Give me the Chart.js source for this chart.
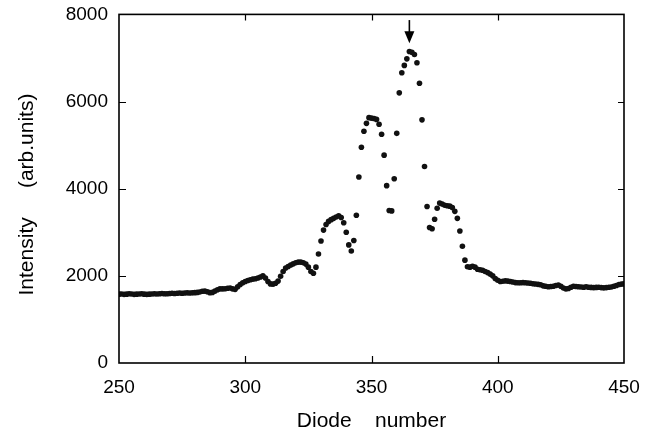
<!DOCTYPE html>
<html>
<head>
<meta charset="utf-8">
<script src="https://cdn.jsdelivr.net/npm/chart.js@4.4.1/dist/chart.umd.min.js"></script>
<style>
  body { margin: 0; background: #fff; }
</style>
</head>
<body>
<canvas id="grafico" width="659" height="437"></canvas>
<script>
// one reading per diode, starting at diode 250
const firstDiode = 250;
const intensity = [
  1580, 1585, 1575, 1580, 1590, 1585, 1575, 1580, 1585, 1590, // 250
  1580, 1575, 1580, 1585, 1590, 1585, 1590, 1595, 1590, 1590, // 260
  1595, 1600, 1595, 1600, 1605, 1600, 1605, 1610, 1605, 1610, // 270
  1615, 1620, 1630, 1645, 1650, 1635, 1615, 1620, 1650, 1680, // 280
  1700, 1700, 1705, 1715, 1720, 1700, 1690, 1750, 1800, 1840, // 290
  1870, 1895, 1910, 1925, 1935, 1950, 1975, 2000, 1950, 1870, // 300
  1815, 1810, 1830, 1880, 1990, 2100, 2180, 2215, 2250, 2275, // 310
  2300, 2315, 2315, 2300, 2270, 2200, 2100, 2060, 2200, 2500, // 320
  2800, 3050, 3180, 3250, 3290, 3320, 3350, 3380, 3340, 3220, // 330
  3000, 2710, 2570, 2810, 3390, 4270, 4950, 5320, 5500, 5630, // 340
  5620, 5610, 5590, 5480, 5250, 4770, 4070, 3500, 3490, 4230, // 350
  5270, 6200, 6660, 6830, 6980, 7150, 7130, 7080, 6890, 6420, // 360
  5580, 4510, 3590, 3110, 3080, 3300, 3550, 3670, 3650, 3620, // 370
  3610, 3600, 3570, 3480, 3320, 3030, 2680, 2360, 2210, 2200, // 380
  2220, 2200, 2150, 2140, 2130, 2100, 2075, 2040, 2000, 1940, // 390
  1900, 1870, 1875, 1885, 1880, 1870, 1860, 1845, 1840, 1840, // 400
  1845, 1840, 1835, 1830, 1820, 1812, 1805, 1795, 1770, 1760, // 410
  1750, 1755, 1760, 1780, 1790, 1760, 1720, 1700, 1710, 1740, // 420
  1760, 1755, 1750, 1745, 1740, 1750, 1740, 1735, 1730, 1735, // 430
  1740, 1730, 1725, 1730, 1740, 1745, 1760, 1780, 1800, 1810, // 440
  1815                                                        // 450
];
const xTicks = [250, 300, 350, 400, 450];
const yTicks = [0, 2000, 4000, 6000, 8000];

// the arrow above the main peak
const arrowDiode = 365;
const arrowTop = 7870;
const arrowTip = 7340;

const fonte = "'Liberation Sans', Arial, sans-serif";

const pontos = intensity.map(function (v, i) {
    return { x: firstDiode + i, y: v };
});

// box round the plot, inward ticks, and the arrow
const molduraPlugin = {
    id: 'moldura',
    afterDraw(chart) {
        const ctx = chart.ctx;
        const a = chart.chartArea;
        const xs = chart.scales.x;
        const ys = chart.scales.y;
        ctx.save();
        ctx.strokeStyle = '#000';
        ctx.lineWidth = 1.6;
        ctx.strokeRect(a.left, a.top, a.right - a.left, a.bottom - a.top);

        ctx.lineWidth = 1.2;
        ctx.beginPath();
        xTicks.slice(1, -1).forEach(function (t) {
            const px = Math.round(xs.getPixelForValue(t)) + 0.5;
            ctx.moveTo(px, a.bottom); ctx.lineTo(px, a.bottom - 7);
            ctx.moveTo(px, a.top); ctx.lineTo(px, a.top + 6);
        });
        yTicks.slice(1, -1).forEach(function (t) {
            const py = Math.round(ys.getPixelForValue(t)) + 0.5;
            ctx.moveTo(a.left, py); ctx.lineTo(a.left + 7, py);
            ctx.moveTo(a.right, py); ctx.lineTo(a.right - 6, py);
        });
        ctx.stroke();

        const ax = xs.getPixelForValue(arrowDiode);
        const yTop = ys.getPixelForValue(arrowTop);
        const yTip = ys.getPixelForValue(arrowTip);
        const yBase = yTip - 12;
        ctx.lineWidth = 1.6;
        ctx.beginPath();
        ctx.moveTo(ax, yTop);
        ctx.lineTo(ax, yBase + 1);
        ctx.stroke();
        ctx.fillStyle = '#000';
        ctx.beginPath();
        ctx.moveTo(ax - 5, yBase);
        ctx.lineTo(ax + 5, yBase);
        ctx.lineTo(ax, yTip);
        ctx.closePath();
        ctx.fill();
        ctx.restore();
    }
};

const config = {
    type: 'scatter',
    data: {
        datasets: [{
            label: 'Intensity',
            data: pontos,
            pointRadius: 2.8,
            pointHoverRadius: 2.8,
            pointBorderWidth: 0,
            backgroundColor: '#111',
            borderColor: '#111',
            showLine: false
        }]
    },
    options: {
        responsive: false,
        animation: false,
        layout: { padding: { left: 0, right: 35, top: 0, bottom: 0 } },
        plugins: {
            legend: { display: false },
            tooltip: { enabled: false }
        },
        scales: {
            x: {
                type: 'linear',
                min: 250,
                max: 450,
                afterFit: function (scale) { scale.height = 74; },
                afterBuildTicks: function (scale) {
                    scale.ticks = xTicks.map(function (v) { return { value: v }; });
                },
                grid: { display: false },
                border: { display: false },
                ticks: {
                    color: '#000',
                    padding: 5,
                    font: { family: fonte, size: 19 },
                    callback: function (v) { return String(v); }
                },
                title: {
                    display: true,
                    text: 'Diode    number',
                    color: '#000',
                    padding: { top: 0, bottom: 3 },
                    font: { family: fonte, size: 21 }
                }
            },
            y: {
                min: 0,
                max: 8000,
                afterFit: function (scale) { scale.width = 119; },
                afterBuildTicks: function (scale) {
                    scale.ticks = yTicks.map(function (v) { return { value: v }; });
                },
                grid: { display: false },
                border: { display: false },
                ticks: {
                    color: '#000',
                    padding: 3,
                    font: { family: fonte, size: 19 },
                    callback: function (v) { return String(v); }
                },
                title: {
                    display: true,
                    text: 'Intensity     (arb.units)  ',
                    color: '#000',
                    padding: { top: 15, bottom: 0 },
                    font: { family: fonte, size: 21 }
                }
            }
        }
    },
    plugins: [molduraPlugin]
};

const cof = document.getElementById('grafico').getContext('2d');
window.myChart = new Chart(cof, config);
</script>
</body>
</html>
